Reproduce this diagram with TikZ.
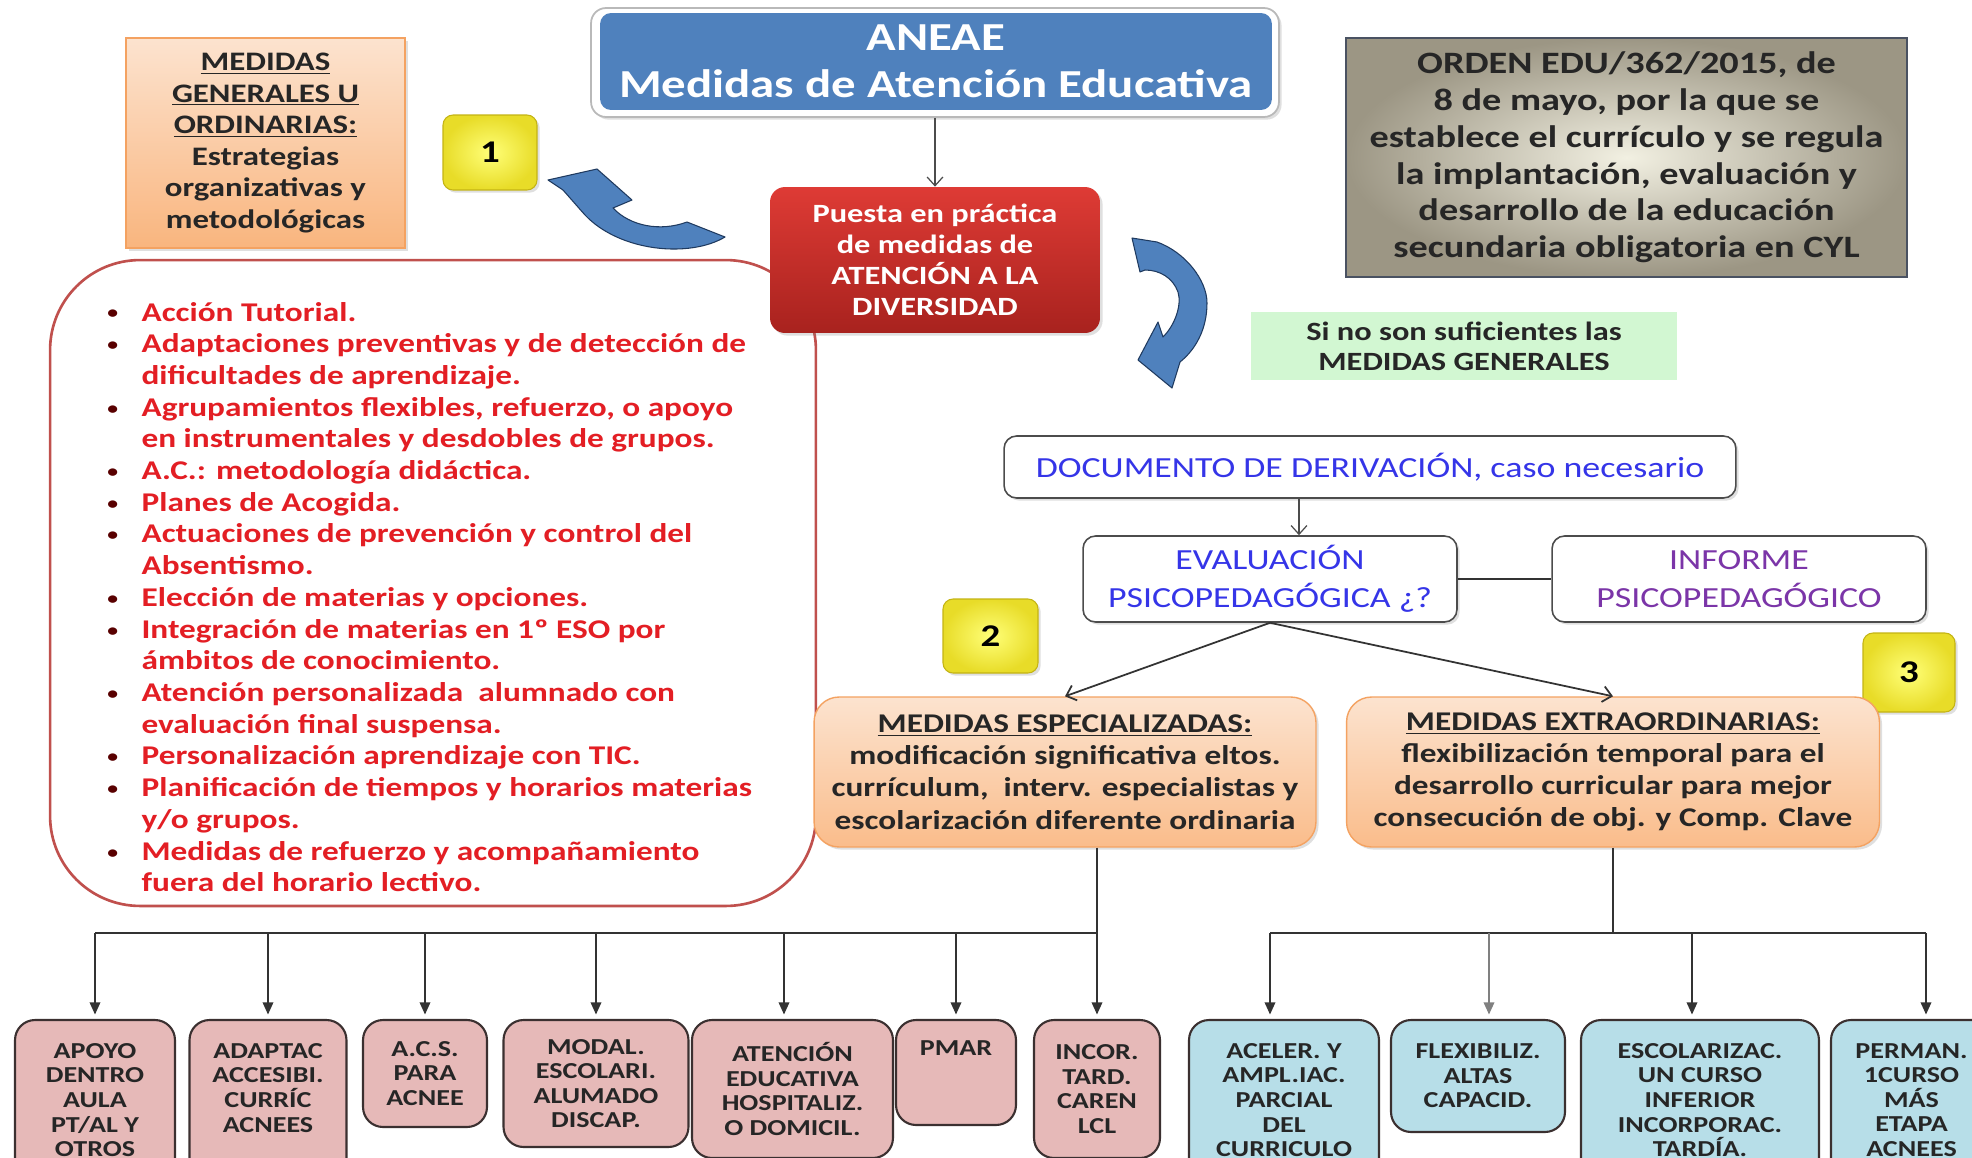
\documentclass[tikz,border=0pt]{standalone}
\usepackage{fontspec}
\setmainfont{Carlito}[FakeStretch=1.23]
\usetikzlibrary{arrows.meta,shadows}
\definecolor{aneaeblue}{HTML}{4F81BD}
\definecolor{arrowblue}{HTML}{4F81BD}
\definecolor{arrowedge}{HTML}{1F3A5F}
\definecolor{ortop}{HTML}{FCE3CF}
\definecolor{orbot}{HTML}{F9B57E}
\definecolor{orbord}{HTML}{F4A261}
\definecolor{redtop}{HTML}{DE3B35}
\definecolor{redbot}{HTML}{A8221E}
\definecolor{listred}{HTML}{E31E24}
\definecolor{listbord}{HTML}{C0504D}
\definecolor{ordin}{HTML}{F2F0E2}
\definecolor{ordout}{HTML}{9C9684}
\definecolor{ordbord}{HTML}{4A5262}
\definecolor{greenbg}{HTML}{D2F7D2}
\definecolor{docblue}{HTML}{3535E8}
\definecolor{infpurple}{HTML}{7B35A8}
\definecolor{yelin}{HTML}{FFFF78}
\definecolor{yelout}{HTML}{E8DC28}
\definecolor{yelbord}{HTML}{C4B414}
\definecolor{pinkfill}{HTML}{E6B9B8}
\definecolor{bluefill}{HTML}{B7DEE8}
\definecolor{boxbord}{HTML}{3B3030}
\definecolor{linegray}{HTML}{333333}
\definecolor{darktext}{HTML}{262626}
\newcommand\fsz[2]{\fontsize{#1}{#2}\selectfont}
\newcommand\smallbul{\raisebox{1.2pt}{\textcolor{black!65!red}{\fontsize{10}{10}\selectfont\textbullet}}}
\newcommand\itm[1]{\noindent\makebox[19.5pt][l]{\smallbul}#1\par}
\newcommand\cnt[1]{\noindent\hspace*{19.5pt}#1\par}
\tikzset{
  every node/.style={inner sep=0pt, align=center},
  softshadow/.style={drop shadow={opacity=0.25, shadow xshift=1.5pt, shadow yshift=-1.5pt}},
  genbox/.style={draw=orbord, line width=0.8pt, top color=ortop, bottom color=orbot, softshadow,
    font=\bfseries\fsz{15.2}{18}, text=darktext},
  numbox/.style={draw=yelbord, line width=0.6pt, inner color=yelin, outer color=yelout,
    rounded corners=0.2cm, softshadow, font=\bfseries\fsz{18}{20}, text=black},
  aneaeframe/.style={draw=gray!55, line width=1pt, fill=white, rounded corners=0.3cm, softshadow},
  aneaebox/.style={fill=aneaeblue, rounded corners=0.22cm, font=\bfseries\fsz{22.6}{27}, text=white},
  puestabox/.style={top color=redtop, bottom color=redbot, rounded corners=0.3cm, softshadow,
    font=\bfseries\fsz{15}{17.6}, text=white},
  ordenbox/.style={draw=ordbord, line width=1.4pt, inner color=ordin, outer color=ordout,
    font=\bfseries\fsz{17.7}{20.9}, text=darktext},
  greenbox/.style={fill=greenbg, font=\bfseries\fsz{15}{17}, text=darktext},
  listbox/.style={draw=listbord, line width=1.5pt, fill=white, rounded corners=1.8cm},
  whitebox/.style={draw=gray!60!black, line width=0.9pt, fill=white, rounded corners=0.25cm, softshadow},
  medbox/.style={draw=orbord, line width=0.8pt, top color=ortop, bottom color=orbot!90!white,
    rounded corners=0.5cm, softshadow, font=\bfseries\fsz{15.4}{18.3}, text=darktext},
  pbox/.style={draw=boxbord, line width=1.2pt, fill=pinkfill, rounded corners=0.4cm,
    font=\bfseries\fsz{13}{14}, text=darktext},
  bbox/.style={draw=boxbord, line width=1.2pt, fill=bluefill, rounded corners=0.4cm,
    font=\bfseries\fsz{13}{14}, text=darktext},
  varr/.style={draw=gray!60!black, line width=0.7pt, -{Straight Barb[length=5pt,width=9pt]}},
  varr2/.style={draw=linegray, line width=1pt, -{Straight Barb[length=5pt,width=9pt]}},
  bus/.style={draw=linegray, line width=1.1pt},
  arr/.style={draw=linegray, line width=1.1pt, -{Triangle[length=7pt,width=6pt]}, shorten >=2.5pt},
  curvarrow/.style={fill=arrowblue, draw=arrowedge, line width=0.6pt, line join=round}
}
\begin{document}
\begin{tikzpicture}[x=0.02cm,y=-0.02cm]
\useasboundingbox (0,0) rectangle (1972,1157);
\clip (0,0) rectangle (1972,1157);
\fill[white] (0,0) rectangle (1972,1157);

% red list box
\node[listbox, minimum width=15.32cm, minimum height=12.92cm] (lista) at (433,583) {};
\node[anchor=base west, text=listred] (listtxt) at (107,321) {\parbox[t]{15cm}{\fsz{15.4}{18.05}\bfseries
\itm{Acción Tutorial.}
\itm{Adaptaciones preventivas y de detección de}
\cnt{dificultades de aprendizaje.}
\itm{Agrupamientos flexibles, refuerzo, o apoyo}
\cnt{en instrumentales y desdobles de grupos.}
\itm{A.C.: metodología didáctica.}
\itm{Planes de Acogida.}
\itm{Actuaciones de prevención y control del}
\cnt{Absentismo.}
\itm{Elección de materias y opciones.}
\itm{Integración de materias en 1º ESO por}
\cnt{ámbitos de conocimiento.}
\itm{Atención personalizada\ \ alumnado con}
\cnt{evaluación final suspensa.}
\itm{Personalización aprendizaje con TIC.}
\itm{Planificación de tiempos y horarios materias}
\cnt{y/o grupos.}
\itm{Medidas de refuerzo y acompañamiento}
\cnt{fuera del horario lectivo.}}};

% top left box
\node[genbox, minimum width=5.58cm, minimum height=4.2cm] (gen) at (265.5,143)
  {\underline{MEDIDAS}\\\underline{GENERALES U}\\\underline{ORDINARIAS:}\\Estrategias\\organizativas y\\metodológicas};

% number boxes
\node[numbox, minimum width=1.88cm, minimum height=1.5cm] (one) at (490,152.5) {1};
\node[numbox, minimum width=1.9cm, minimum height=1.48cm] (two) at (990.5,636) {2};
\node[numbox, minimum width=1.84cm, minimum height=1.58cm] (three) at (1909,672.5) {3};

% ANEAE
\node[aneaeframe, minimum width=13.76cm, minimum height=2.18cm] (aneaefr) at (935,62.5) {};
\node[aneaebox, minimum width=13.44cm, minimum height=1.94cm] (aneae) at (936,61.5)
  {ANEAE\\Medidas de Atención Educativa};

% Puesta
\node[puestabox, minimum width=6.6cm, minimum height=2.92cm] (puesta) at (935,260)
  {Puesta en práctica\\de medidas de\\ATENCIÓN A LA\\DIVERSIDAD};
\draw[varr] (aneaefr.south) -- (puesta.north);

% ORDEN
\node[ordenbox, minimum width=11.22cm, minimum height=4.78cm] (orden) at (1626.5,157.5)
  {ORDEN EDU/362/2015, de\\8 de mayo, por la que se\\establece el currículo y se regula\\la implantación, evaluación y\\desarrollo de la educación\\secundaria obligatoria en CYL};

% green
\node[greenbox, minimum width=8.52cm, minimum height=1.36cm] (green) at (1464,346)
  {Si no son suficientes las\\MEDIDAS GENERALES};

% curved arrows
\path[curvarrow] (548,180) -- (597,169) -- (632,200) -- (613,208)
  .. controls (630,226) and (660,232) .. (687,222) -- (725,237)
  .. controls (690,258) and (620,252) .. (585,215) -- (563,190) -- cycle;
\path[curvarrow] (1132,238) -- (1157,242)
  .. controls (1185,252) and (1207,280) .. (1207,303)
  .. controls (1207,330) and (1195,350) .. (1180,362)
  -- (1172,388) -- (1138,360) -- (1158,322) -- (1163,337)
  .. controls (1175,325) and (1182,305) .. (1178,292)
  .. controls (1173,278) and (1160,270) .. (1145,270) -- (1140,272) -- cycle;

% documento / evaluacion / informe
\node[whitebox, minimum width=14.64cm, minimum height=1.24cm, font=\fsz{16.6}{20}, text=docblue] (doc) at (1370,467)
  {DOCUMENTO DE DERIVACIÓN, caso necesario};
\node[whitebox, minimum width=7.48cm, minimum height=1.72cm, font=\fsz{16.6}{21.5}, text=docblue] (eval) at (1270,579)
  {EVALUACIÓN\\PSICOPEDAGÓGICA ¿?};
\node[whitebox, minimum width=7.48cm, minimum height=1.72cm, font=\fsz{16.6}{21.5}, text=infpurple] (inf) at (1739,579)
  {INFORME\\PSICOPEDAGÓGICO};
\coordinate (dx) at ([xshift=0.58cm]eval.north);
\draw[varr] (dx |- doc.south) -- (dx);
\draw[line width=1.2pt, linegray] (eval.east) -- (inf.west);

% medidas especializadas / extraordinarias
\node[medbox, minimum width=10.04cm, minimum height=3cm] (esp) at (1065,772)
  {\underline{MEDIDAS ESPECIALIZADAS:}\\modificación significativa eltos.\\currículum,\ \ interv. especialistas y\\escolarización diferente ordinaria};
\node[medbox, minimum width=10.66cm, minimum height=3cm] (extra) at (1613,772)
  {\underline{MEDIDAS EXTRAORDINARIAS:}\\flexibilización temporal para el\\desarrollo curricular para mejor\\consecución de obj. y Comp. Clave};
\draw[varr2] (eval.south) -- (esp.north);
\draw[varr2] (eval.south) -- (extra.north);

% bottom boxes
\node[pbox, minimum width=3.2cm, minimum height=3.2cm] (apoyo) at (95,1100) {APOYO\\DENTRO\\AULA\\PT/AL Y\\OTROS};
\node[pbox, minimum width=3.14cm, minimum height=3.2cm] (adaptac) at (268,1100) {ADAPTAC\\ACCESIBI.\\CURRÍC\\ACNEES\\\mbox{}};
\node[pbox, minimum width=2.48cm, minimum height=2.14cm] (acs) at (425,1073.5) {A.C.S.\\PARA\\ACNEE};
\node[pbox, minimum width=3.7cm, minimum height=2.54cm] (modal) at (596,1083.5) {MODAL.\\ESCOLARI.\\ALUMADO\\DISCAP.};
\node[pbox, minimum width=4.02cm, minimum height=2.76cm] (atencion) at (792.5,1089) {ATENCIÓN\\EDUCATIVA\\HOSPITALIZ.\\O DOMICIL.};
\node[pbox, minimum width=2.4cm, minimum height=2.1cm] (pmar) at (956,1072.5) {PMAR\\\mbox{}\\\mbox{}};
\node[pbox, minimum width=2.52cm, minimum height=2.76cm] (incor) at (1097,1089) {INCOR.\\TARD.\\CAREN\\LCL};
\node[bbox, minimum width=3.8cm, minimum height=3.2cm] (aceler) at (1284,1100) {ACELER. Y\\AMPL.IAC.\\PARCIAL\\DEL\\CURRICULO};
\node[bbox, minimum width=3.48cm, minimum height=2.24cm] (flex) at (1478,1076) {FLEXIBILIZ.\\ALTAS\\CAPACID.};
\node[bbox, minimum width=4.76cm, minimum height=3.2cm] (escol) at (1700,1100) {ESCOLARIZAC.\\UN CURSO\\INFERIOR\\INCORPORAC.\\TARDÍA.};
\node[bbox, minimum width=3.22cm, minimum height=3.2cm] (perman) at (1911.5,1100) {PERMAN.\\1CURSO\\MÁS\\ETAPA\\ACNEES};

% buses
\coordinate (busy) at (0,933);
\coordinate (atT) at ([xshift=-0.17cm]atencion.north);
\coordinate (acT) at ([xshift=-0.28cm]aceler.north);
\coordinate (flT) at ([xshift=0.22cm]flex.north);
\coordinate (esT) at ([xshift=-0.16cm]escol.north);
\coordinate (peT) at ([xshift=0.29cm]perman.north);
\draw[bus] (apoyo.north |- busy) -- (incor.north |- busy);
\draw[bus] (esp.south -| incor.north) -- (incor.north |- busy);
\foreach \n in {apoyo,adaptac,acs,modal,pmar,incor}
  \draw[arr] (\n.north |- busy) -- (\n.north);
\draw[arr] (atT |- busy) -- (atT);
\draw[bus] (acT |- busy) -- (peT |- busy);
\draw[bus] (extra.south) -- (extra.south |- busy);
\draw[arr] (acT |- busy) -- (acT);
\draw[arr, draw=gray] (flT |- busy) -- (flT);
\draw[arr] (esT |- busy) -- (esT);
\draw[arr] (peT |- busy) -- (peT);
\end{tikzpicture}
\end{document}
